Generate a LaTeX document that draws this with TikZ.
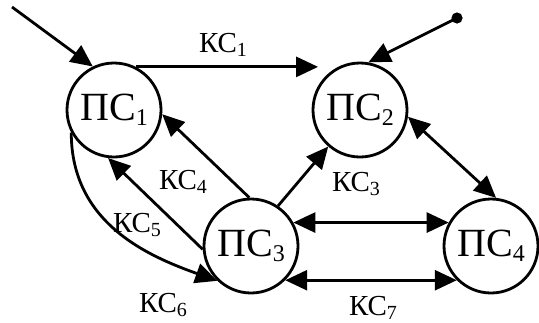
\documentclass[tikz,border=0pt]{standalone}
\usepackage{fontspec}
\setmainfont{Liberation Serif}
\usetikzlibrary{arrows.meta}
\newcommand\psub[1]{\raisebox{-2.5pt}{\fontsize{12}{12}\selectfont #1}}
\newcommand\ksub[1]{\raisebox{-2pt}{\fontsize{10}{10}\selectfont #1}}
\begin{document}
\begin{tikzpicture}[x=0.5pt,y=-0.5pt,
  ps/.style={draw,circle,line width=1.4pt,minimum size=47pt,inner sep=0pt,font=\fontsize{20}{20}\selectfont},
  kc/.style={font=\fontsize{14.5}{14.5}\selectfont,inner sep=1pt},
  arr/.style={line width=1.4pt,-{Triangle[length=11pt,width=10pt]}},
  darr/.style={line width=1.4pt,{Triangle[length=11pt,width=10pt]}-{Triangle[length=11pt,width=10pt]}}]
\useasboundingbox (0,0) rectangle (539,322);
\node[ps] (A) at (114,110) {ПС\psub{1}};
\node[ps] (B) at (360,110) {ПС\psub{2}};
\node[ps] (C) at (251,246) {ПС\psub{3}};
\node[ps] (D) at (491,246) {ПС\psub{4}};
\coordinate (s0) at (12,7);
\coordinate (s2) at (457,18);
\fill (s2) circle[radius=2.8pt];
\draw[arr] (s0) -- (A.116);
\draw[arr] (s2) -- (B.80);
\draw[arr] (A.63) -- (A.63 -| B.150);
\draw[darr] (B.-8) -- (D.84);
\draw[arr] (C.56) -- (B.229);
\draw[arr] (C.92) -- (A.-5);
\draw[arr] (C.184) -- (A.-97);
\draw[arr] (A.208) .. controls +(0,90) and +(-70,-25) .. (C.226);
\draw[darr] (C.29) -- (D.151);
\draw[darr] (C.-45) -- (D.-135);
\node[kc] (k1) at (223,45) {КС\ksub{1}};
\node[kc] (k3) at (356,184) {КС\ksub{3}};
\node[kc] (k4) at (183,182) {КС\ksub{4}};
\node[kc] (k5) at (137,225) {КС\ksub{5}};
\node[kc] (k6) at (163,305) {КС\ksub{6}};
\node[kc] (k7) at (373,308) {КС\ksub{7}};
\end{tikzpicture}
\end{document}
